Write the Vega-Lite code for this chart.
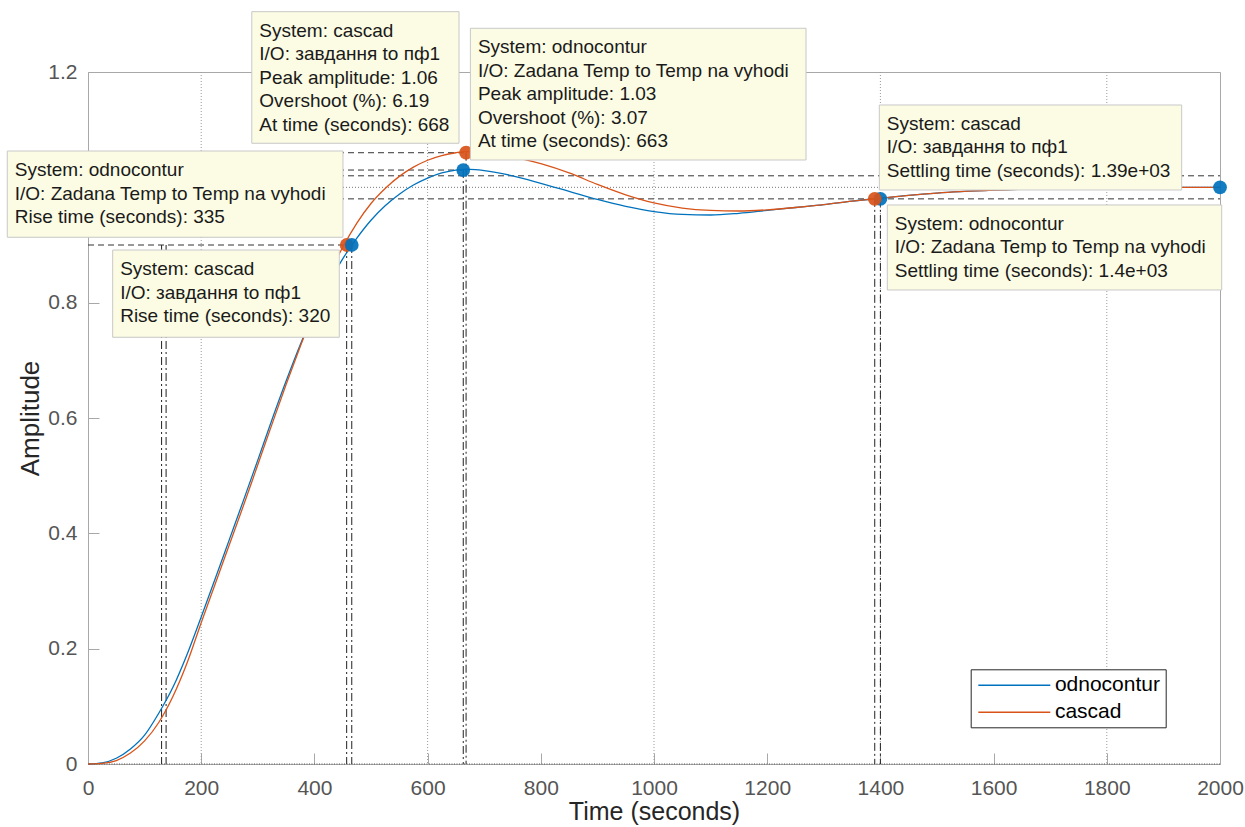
{
  "$schema": "https://vega.github.io/schema/vega-lite/v6.json",
  "width": 1132,
  "height": 692,
  "autosize": {"type": "none"},
  "padding": {"left": 88, "top": 72, "right": 25, "bottom": 63},
  "background": "white",
  "config": {
    "view": {"stroke": "#a8a8a8", "strokeWidth": 1},
    "font": "Liberation Sans"
  },
  "datasets": {
    "resp": [
      {"series": "odnocontur", "t": 0, "a": 0},
      {"series": "odnocontur", "t": 25, "a": 0.002},
      {"series": "odnocontur", "t": 50, "a": 0.01},
      {"series": "odnocontur", "t": 75, "a": 0.026},
      {"series": "odnocontur", "t": 100, "a": 0.05},
      {"series": "odnocontur", "t": 125, "a": 0.088},
      {"series": "odnocontur", "t": 150, "a": 0.133},
      {"series": "odnocontur", "t": 175, "a": 0.19},
      {"series": "odnocontur", "t": 200, "a": 0.255},
      {"series": "odnocontur", "t": 225, "a": 0.322},
      {"series": "odnocontur", "t": 250, "a": 0.39},
      {"series": "odnocontur", "t": 275, "a": 0.458},
      {"series": "odnocontur", "t": 300, "a": 0.527},
      {"series": "odnocontur", "t": 325, "a": 0.597},
      {"series": "odnocontur", "t": 350, "a": 0.664},
      {"series": "odnocontur", "t": 375, "a": 0.727},
      {"series": "odnocontur", "t": 400, "a": 0.784},
      {"series": "odnocontur", "t": 425, "a": 0.834},
      {"series": "odnocontur", "t": 450, "a": 0.876},
      {"series": "odnocontur", "t": 475, "a": 0.912},
      {"series": "odnocontur", "t": 500, "a": 0.943},
      {"series": "odnocontur", "t": 525, "a": 0.968},
      {"series": "odnocontur", "t": 550, "a": 0.988},
      {"series": "odnocontur", "t": 575, "a": 1.004},
      {"series": "odnocontur", "t": 600, "a": 1.016},
      {"series": "odnocontur", "t": 625, "a": 1.025},
      {"series": "odnocontur", "t": 650, "a": 1.03},
      {"series": "odnocontur", "t": 663, "a": 1.031},
      {"series": "odnocontur", "t": 675, "a": 1.031},
      {"series": "odnocontur", "t": 700, "a": 1.029},
      {"series": "odnocontur", "t": 750, "a": 1.02},
      {"series": "odnocontur", "t": 800, "a": 1.007},
      {"series": "odnocontur", "t": 850, "a": 0.993},
      {"series": "odnocontur", "t": 900, "a": 0.979},
      {"series": "odnocontur", "t": 950, "a": 0.967},
      {"series": "odnocontur", "t": 1000, "a": 0.958},
      {"series": "odnocontur", "t": 1050, "a": 0.953},
      {"series": "odnocontur", "t": 1100, "a": 0.952},
      {"series": "odnocontur", "t": 1150, "a": 0.955},
      {"series": "odnocontur", "t": 1200, "a": 0.96},
      {"series": "odnocontur", "t": 1250, "a": 0.965},
      {"series": "odnocontur", "t": 1300, "a": 0.97},
      {"series": "odnocontur", "t": 1350, "a": 0.976},
      {"series": "odnocontur", "t": 1400, "a": 0.981},
      {"series": "odnocontur", "t": 1450, "a": 0.986},
      {"series": "odnocontur", "t": 1500, "a": 0.99},
      {"series": "odnocontur", "t": 1600, "a": 0.995},
      {"series": "odnocontur", "t": 1700, "a": 0.998},
      {"series": "odnocontur", "t": 1800, "a": 0.999},
      {"series": "odnocontur", "t": 1900, "a": 1.0},
      {"series": "odnocontur", "t": 2000, "a": 1.0},
      {"series": "cascad", "t": 0, "a": 0},
      {"series": "cascad", "t": 25, "a": 0.001},
      {"series": "cascad", "t": 50, "a": 0.006},
      {"series": "cascad", "t": 75, "a": 0.019},
      {"series": "cascad", "t": 100, "a": 0.04},
      {"series": "cascad", "t": 125, "a": 0.072},
      {"series": "cascad", "t": 150, "a": 0.117},
      {"series": "cascad", "t": 175, "a": 0.175},
      {"series": "cascad", "t": 200, "a": 0.245},
      {"series": "cascad", "t": 225, "a": 0.313},
      {"series": "cascad", "t": 250, "a": 0.381},
      {"series": "cascad", "t": 275, "a": 0.449},
      {"series": "cascad", "t": 300, "a": 0.519},
      {"series": "cascad", "t": 325, "a": 0.589},
      {"series": "cascad", "t": 350, "a": 0.658},
      {"series": "cascad", "t": 375, "a": 0.724},
      {"series": "cascad", "t": 400, "a": 0.787},
      {"series": "cascad", "t": 425, "a": 0.846},
      {"series": "cascad", "t": 450, "a": 0.896},
      {"series": "cascad", "t": 475, "a": 0.938},
      {"series": "cascad", "t": 500, "a": 0.972},
      {"series": "cascad", "t": 525, "a": 0.998},
      {"series": "cascad", "t": 550, "a": 1.019},
      {"series": "cascad", "t": 575, "a": 1.035},
      {"series": "cascad", "t": 600, "a": 1.047},
      {"series": "cascad", "t": 625, "a": 1.055},
      {"series": "cascad", "t": 650, "a": 1.06},
      {"series": "cascad", "t": 668, "a": 1.062},
      {"series": "cascad", "t": 700, "a": 1.06},
      {"series": "cascad", "t": 750, "a": 1.053},
      {"series": "cascad", "t": 800, "a": 1.041},
      {"series": "cascad", "t": 850, "a": 1.025},
      {"series": "cascad", "t": 900, "a": 1.005},
      {"series": "cascad", "t": 950, "a": 0.987},
      {"series": "cascad", "t": 1000, "a": 0.973},
      {"series": "cascad", "t": 1050, "a": 0.964},
      {"series": "cascad", "t": 1100, "a": 0.96},
      {"series": "cascad", "t": 1150, "a": 0.959},
      {"series": "cascad", "t": 1200, "a": 0.961},
      {"series": "cascad", "t": 1250, "a": 0.965},
      {"series": "cascad", "t": 1300, "a": 0.97},
      {"series": "cascad", "t": 1350, "a": 0.976},
      {"series": "cascad", "t": 1390, "a": 0.98},
      {"series": "cascad", "t": 1450, "a": 0.986},
      {"series": "cascad", "t": 1500, "a": 0.99},
      {"series": "cascad", "t": 1600, "a": 0.995},
      {"series": "cascad", "t": 1700, "a": 0.998},
      {"series": "cascad", "t": 1800, "a": 0.999},
      {"series": "cascad", "t": 1900, "a": 1.0},
      {"series": "cascad", "t": 2000, "a": 1.0}
    ],
    "grid": [{"t": 200}, {"t": 600}, {"t": 1000}, {"t": 1400}, {"t": 1800}],
    "vchar": [
      {"series": "odnocontur", "t": 130, "a0": 0, "a": 0.9},
      {"series": "cascad", "t": 138, "a0": 0, "a": 0.9},
      {"series": "cascad", "t": 457, "a0": 0, "a": 0.9},
      {"series": "odnocontur", "t": 466, "a0": 0, "a": 0.9},
      {"series": "odnocontur", "t": 663, "a0": 0, "a": 1.03},
      {"series": "cascad", "t": 668, "a0": 0, "a": 1.06},
      {"series": "cascad", "t": 1390, "a0": 0, "a": 0.98},
      {"series": "odnocontur", "t": 1400, "a0": 0, "a": 0.98}
    ],
    "hchar": [
      {"a": 0.9, "t0": 0, "t": 466},
      {"a": 1.03, "t0": 0, "t": 663},
      {"a": 1.06, "t0": 0, "t": 668},
      {"a": 0.98, "t0": 0, "t": 2000},
      {"a": 1.02, "t0": 0, "t": 2000}
    ],
    "steady": [{"a": 1.0}],
    "zero": [{"a": 0}],
    "points": [
      {"series": "cascad", "t": 457, "a": 0.9},
      {"series": "odnocontur", "t": 466, "a": 0.9},
      {"series": "odnocontur", "t": 663, "a": 1.03},
      {"series": "cascad", "t": 668, "a": 1.06},
      {"series": "odnocontur", "t": 1400, "a": 0.98},
      {"series": "cascad", "t": 1390, "a": 0.98},
      {"series": "odnocontur", "t": 2000, "a": 1.0}
    ],
    "tips": [
      {"t1": 289.4, "t2": 655.5, "atop": 1.3046, "abot": 1.0764, "lines": ["System: cascad", "I/O: завдання to пф1", "Peak amplitude: 1.06", "Overshoot (%): 6.19", "At time (seconds): 668"]},
      {"t1": 675.6, "t2": 1268.6, "atop": 1.2758, "abot": 1.0474, "lines": ["System: odnocontur", "I/O: Zadana Temp to Temp na vyhodi", "Peak amplitude: 1.03", "Overshoot (%): 3.07", "At time (seconds): 663"]},
      {"t1": -142.6, "t2": 450.5, "atop": 1.063, "abot": 0.9134, "lines": ["System: odnocontur", "I/O: Zadana Temp to Temp na vyhodi", "Rise time (seconds): 335"]},
      {"t1": 43.6, "t2": 444, "atop": 0.8913, "abot": 0.74, "lines": ["System: cascad", "I/O: завдання to пф1", "Rise time (seconds): 320"]},
      {"t1": 1398.1, "t2": 1932.3, "atop": 1.1428, "abot": 0.9954, "lines": ["System: cascad", "I/O: завдання to пф1", "Settling time (seconds): 1.39e+03"]},
      {"t1": 1412.2, "t2": 2003, "atop": 0.9694, "abot": 0.822, "lines": ["System: odnocontur", "I/O: Zadana Temp to Temp na vyhodi", "Settling time (seconds): 1.4e+03"]}
    ]
  },
  "layer": [
    {
      "data": {"name": "grid"},
      "mark": {"type": "rule", "stroke": "#9a9a9a", "strokeWidth": 1, "strokeDash": [1, 2]},
      "encoding": {
        "x": {
          "field": "t", "type": "quantitative",
          "scale": {"domain": [0, 2000], "nice": false, "zero": false},
          "axis": {
            "title": "Time (seconds)",
            "values": [0, 200, 400, 600, 800, 1000, 1200, 1400, 1600, 1800, 2000],
            "format": "d",
            "grid": false,
            "tickSize": -11,
            "tickColor": "#a8a8a8",
            "domainColor": "#a8a8a8",
            "labelFont": "Liberation Sans",
            "labelFontSize": 21,
            "labelColor": "#555555",
            "labelPadding": 24,
            "labelFlush": false,
            "labelOverlap": false,
            "titleFont": "Liberation Sans",
            "titleFontSize": 25,
            "titleFontWeight": "normal",
            "titleColor": "#262626",
            "titlePadding": 1
          }
        }
      }
    },
    {
      "data": {"name": "zero"},
      "mark": {"type": "rule", "stroke": "#555555", "strokeWidth": 1, "strokeDash": [1, 1.5]},
      "encoding": {
        "y": {
          "field": "a", "type": "quantitative",
          "scale": {"domain": [0, 1.2], "nice": false, "zero": false},
          "axis": {
            "title": "Amplitude",
            "values": [0, 0.2, 0.4, 0.6, 0.8, 1.2],
            "format": "~g",
            "grid": false,
            "tickSize": -11,
            "tickColor": "#a8a8a8",
            "domainColor": "#a8a8a8",
            "labelFont": "Liberation Sans",
            "labelFontSize": 21,
            "labelColor": "#555555",
            "labelPadding": 22,
            "labelFlush": false,
            "labelOverlap": false,
            "titleFont": "Liberation Sans",
            "titleFontSize": 26,
            "titleFontWeight": "normal",
            "titleColor": "#262626",
            "titlePadding": 4
          }
        }
      }
    },
    {
      "data": {"name": "steady"},
      "mark": {"type": "rule", "stroke": "#777777", "strokeWidth": 1, "strokeDash": [1, 2]},
      "encoding": {
        "y": {"field": "a", "type": "quantitative", "title": "Amplitude"}
      }
    },
    {
      "data": {"name": "vchar"},
      "mark": {"type": "rule", "stroke": "#222222", "strokeWidth": 1, "strokeDash": [8, 3, 2, 3]},
      "encoding": {
        "x": {"field": "t", "type": "quantitative", "title": "Time (seconds)"},
        "y": {"field": "a", "type": "quantitative", "title": "Amplitude"},
        "y2": {"field": "a0"}
      }
    },
    {
      "data": {"name": "hchar"},
      "mark": {"type": "rule", "stroke": "#333333", "strokeWidth": 1, "strokeDash": [6, 4]},
      "encoding": {
        "y": {"field": "a", "type": "quantitative", "title": "Amplitude"},
        "x": {"field": "t0", "type": "quantitative", "title": "Time (seconds)"},
        "x2": {"field": "t"}
      }
    },
    {
      "data": {"name": "resp"},
      "mark": {"type": "line", "strokeWidth": 1.3, "interpolate": "monotone"},
      "encoding": {
        "x": {"field": "t", "type": "quantitative", "title": "Time (seconds)"},
        "y": {"field": "a", "type": "quantitative", "title": "Amplitude"},
        "color": {
          "field": "series", "type": "nominal",
          "scale": {"domain": ["odnocontur", "cascad"], "range": ["#0072BD", "#D95319"]},
          "legend": {
            "orient": "none",
            "legendX": 882.7,
            "legendY": 597.3,
            "title": null,
            "symbolType": "M-3.6,0H3.6",
            "symbolSize": 400,
            "symbolStrokeWidth": 1.5,
            "symbolOffset": 27.6,
            "labelOffset": 29.6,
            "labelFont": "Liberation Sans",
            "labelFontSize": 21,
            "labelColor": "#000000",
            "strokeColor": "#262626",
            "fillColor": "white",
            "padding": 5,
            "rowPadding": 6
          }
        }
      }
    },
    {
      "data": {"name": "points"},
      "mark": {"type": "point", "filled": true, "size": 190, "opacity": 0.92, "shape": "circle"},
      "encoding": {
        "x": {"field": "t", "type": "quantitative", "title": "Time (seconds)"},
        "y": {"field": "a", "type": "quantitative", "title": "Amplitude"},
        "fill": {
          "field": "series", "type": "nominal",
          "scale": {"domain": ["odnocontur", "cascad"], "range": ["#0072BD", "#D95319"]},
          "legend": null
        }
      }
    },
    {
      "data": {"name": "tips"},
      "mark": {"type": "rect", "fill": "#fcfce4", "stroke": "#c8c8c8", "strokeWidth": 1},
      "encoding": {
        "x": {"field": "t1", "type": "quantitative", "title": "Time (seconds)"},
        "x2": {"field": "t2"},
        "y": {"field": "atop", "type": "quantitative", "title": "Amplitude"},
        "y2": {"field": "abot"}
      }
    },
    {
      "data": {"name": "tips"},
      "mark": {"type": "text", "align": "left", "baseline": "top", "dx": 7.5, "dy": 10, "fontSize": 19, "lineHeight": 23.5, "font": "Liberation Sans", "color": "#1a1a1a"},
      "encoding": {
        "x": {"field": "t1", "type": "quantitative", "title": "Time (seconds)"},
        "y": {"field": "atop", "type": "quantitative", "title": "Amplitude"},
        "text": {"field": "lines", "type": "nominal"}
      }
    }
  ]
}
